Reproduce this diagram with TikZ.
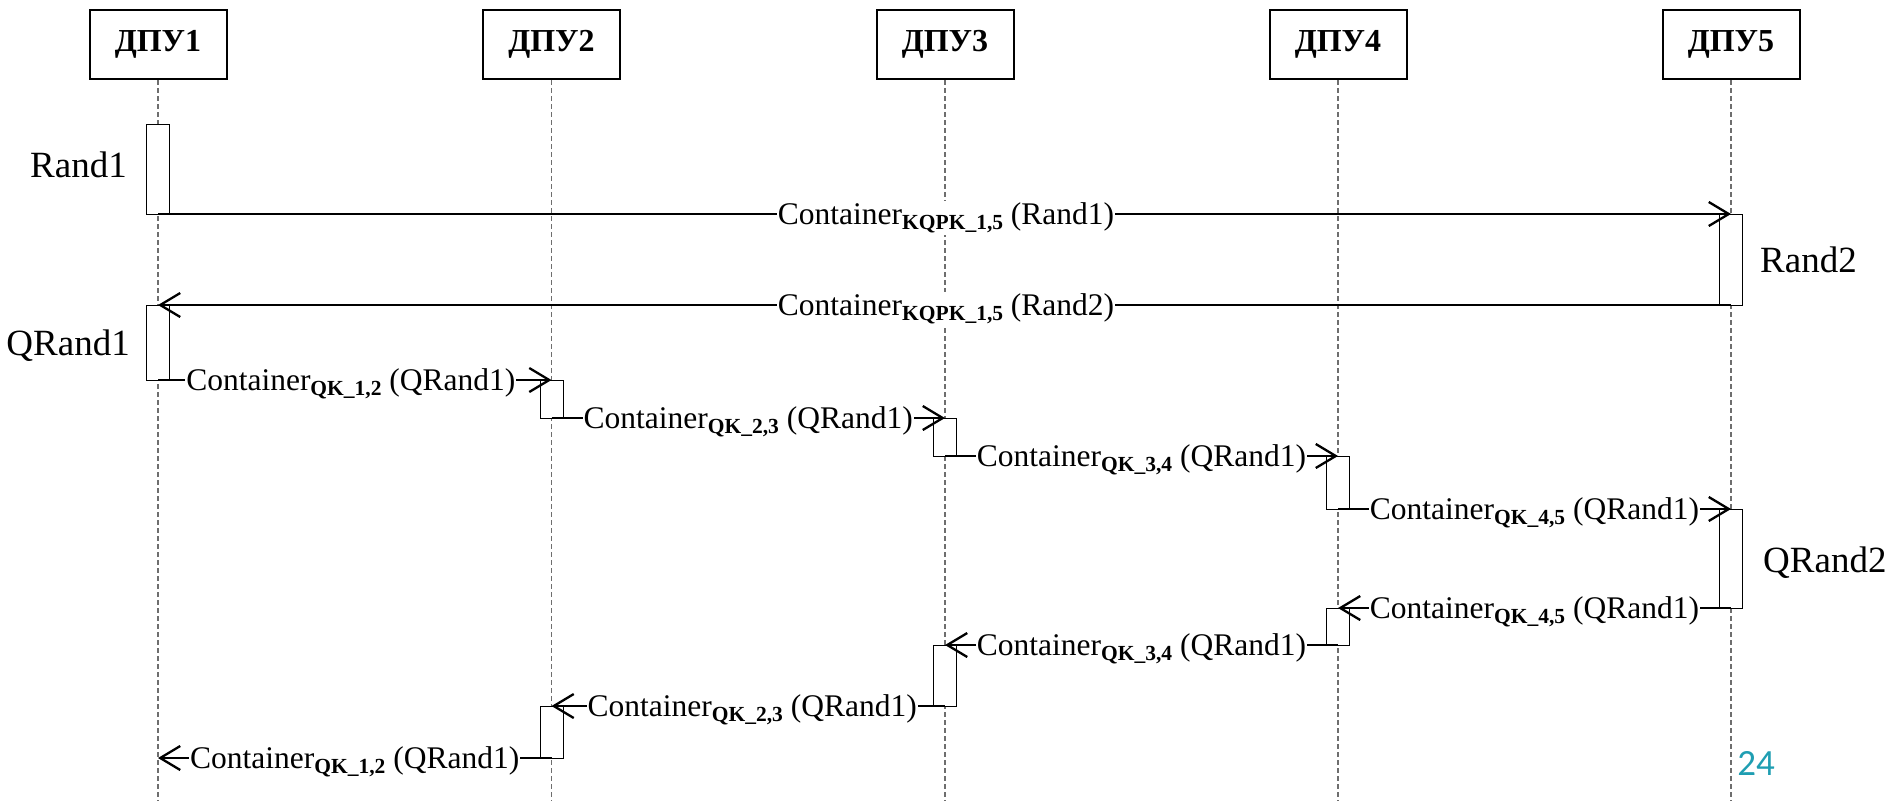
\documentclass[tikz,border=0pt]{standalone}
\usepackage{fontspec}
\setmainfont{Liberation Serif}
\newfontfamily\pagefont{Carlito}
\usetikzlibrary{arrows.meta}
\definecolor{lifegray}{RGB}{110,110,110}
\definecolor{pagenum}{RGB}{31,158,178}
\newcommand\msub[1]{\raisebox{-5pt}{\fontsize{21.5}{21.5}\selectfont\bfseries #1}}
\begin{document}
\begin{tikzpicture}[x=1pt,y=-1pt,
  head/.style={draw, line width=2pt, minimum width=137pt, minimum height=69pt, inner sep=0pt,
    font=\fontsize{32}{32}\selectfont\bfseries},
  life/.style={draw=lifegray, line width=1.3pt, dash pattern=on 5pt off 3pt},
  act/.style={draw, fill=white, line width=1pt, minimum width=23pt, inner sep=0pt, anchor=north},
  msg/.style={line width=2.3pt, -{Straight Barb[length=20pt,width=24pt]}},
  lbl/.style={fill=white, inner xsep=1pt, inner ysep=2pt, yshift=-4pt,
    font=\fontsize{31.5}{31.5}\selectfont},
  side/.style={inner sep=0pt, font=\fontsize{37}{37}\selectfont}
]
\useasboundingbox (0,0) rectangle (1889,801);

% headers
\node[head] (h1) at (158,44.5) {ДПУ1};
\node[head] (h2) at (551.5,44.5) {ДПУ2};
\node[head] (h3) at (945,44.5) {ДПУ3};
\node[head] (h4) at (1338,44.5) {ДПУ4};
\node[head] (h5) at (1731,44.5) {ДПУ5};

% lifeline ends
\coordinate (e1) at (158,801);
\coordinate (e2) at (551.5,801);
\coordinate (e3) at (945,801);
\coordinate (e4) at (1338,801);
\coordinate (e5) at (1731,801);
\foreach \i in {1,...,5} \draw[life] (h\i.south) -- (e\i);

% activation boxes
\node[act, minimum height=90pt] (a1) at (158,124) {};
\node[act, minimum height=91pt] (a2) at (1731,214) {};
\node[act, minimum height=75pt] (a3) at (158,305) {};
\node[act, minimum height=38pt] (a4) at (551.5,380) {};
\node[act, minimum height=38pt] (a5) at (945,418) {};
\node[act, minimum height=53pt] (a6) at (1338,456) {};
\node[act, minimum height=99pt] (a7) at (1731,509) {};
\node[act, minimum height=37pt] (a8) at (1338,608) {};
\node[act, minimum height=61pt] (a9) at (945,645) {};
\node[act, minimum height=52pt] (a10) at (551.5,706) {};

% side labels
\node[side, anchor=east, xshift=-19pt, yshift=5pt] (r1) at (a1.west) {Rand1};
\node[side, anchor=east, xshift=-16pt, yshift=-3pt] (q1) at (a3.west) {QRand1};
\node[side, anchor=west, xshift=17pt] (r2) at (a2.east) {Rand2};
\node[side, anchor=west, xshift=20pt, yshift=-4pt] (q2) at (a7.east) {QRand2};

% message end points
\coordinate (m1a) at (158,214);   \coordinate (m1b) at (1731,214);
\coordinate (m2a) at (1731,305);  \coordinate (m2b) at (158,305);
\coordinate (m3a) at (158,380);   \coordinate (m3b) at (551.5,380);
\coordinate (m4a) at (551.5,418); \coordinate (m4b) at (945,418);
\coordinate (m5a) at (945,456);   \coordinate (m5b) at (1338,456);
\coordinate (m6a) at (1338,509);  \coordinate (m6b) at (1731,509);
\coordinate (m7a) at (1731,608);  \coordinate (m7b) at (1338,608);
\coordinate (m8a) at (1338,645);  \coordinate (m8b) at (945,645);
\coordinate (m9a) at (945,706);   \coordinate (m9b) at (551.5,706);
\coordinate (m10a) at (551.5,758); \coordinate (m10b) at (158,758);

\draw[msg] (m1a) -- (m1b) node[lbl, pos=0.501] (t1) {Container\msub{KQPK\_1,5} (Rand1)};
\draw[msg] (m2a) -- (m2b) node[lbl, pos=0.499] (t2) {Container\msub{KQPK\_1,5} (Rand2)};
\draw[msg] (m3a) -- (m3b) node[lbl, pos=0.49] (t3) {Container\msub{QK\_1,2} (QRand1)};
\draw[msg] (m4a) -- (m4b) node[lbl, pos=0.5] (t4) {Container\msub{QK\_2,3} (QRand1)};
\draw[msg] (m5a) -- (m5b) node[lbl, pos=0.5] (t5) {Container\msub{QK\_3,4} (QRand1)};
\draw[msg] (m6a) -- (m6b) node[lbl, pos=0.5] (t6) {Container\msub{QK\_4,5} (QRand1)};
\draw[msg] (m7a) -- (m7b) node[lbl, pos=0.5] (t7) {Container\msub{QK\_4,5} (QRand1)};
\draw[msg] (m8a) -- (m8b) node[lbl, pos=0.5] (t8) {Container\msub{QK\_3,4} (QRand1)};
\draw[msg] (m9a) -- (m9b) node[lbl, pos=0.49] (t9) {Container\msub{QK\_2,3} (QRand1)};
\draw[msg] (m10a) -- (m10b) node[lbl, pos=0.5] (t10) {Container\msub{QK\_1,2} (QRand1)};

% page number
\node[inner sep=0pt, text=pagenum, font=\pagefont\fontsize{37}{37}\selectfont] (pg) at (1756,763) {24};
\end{tikzpicture}
\end{document}
